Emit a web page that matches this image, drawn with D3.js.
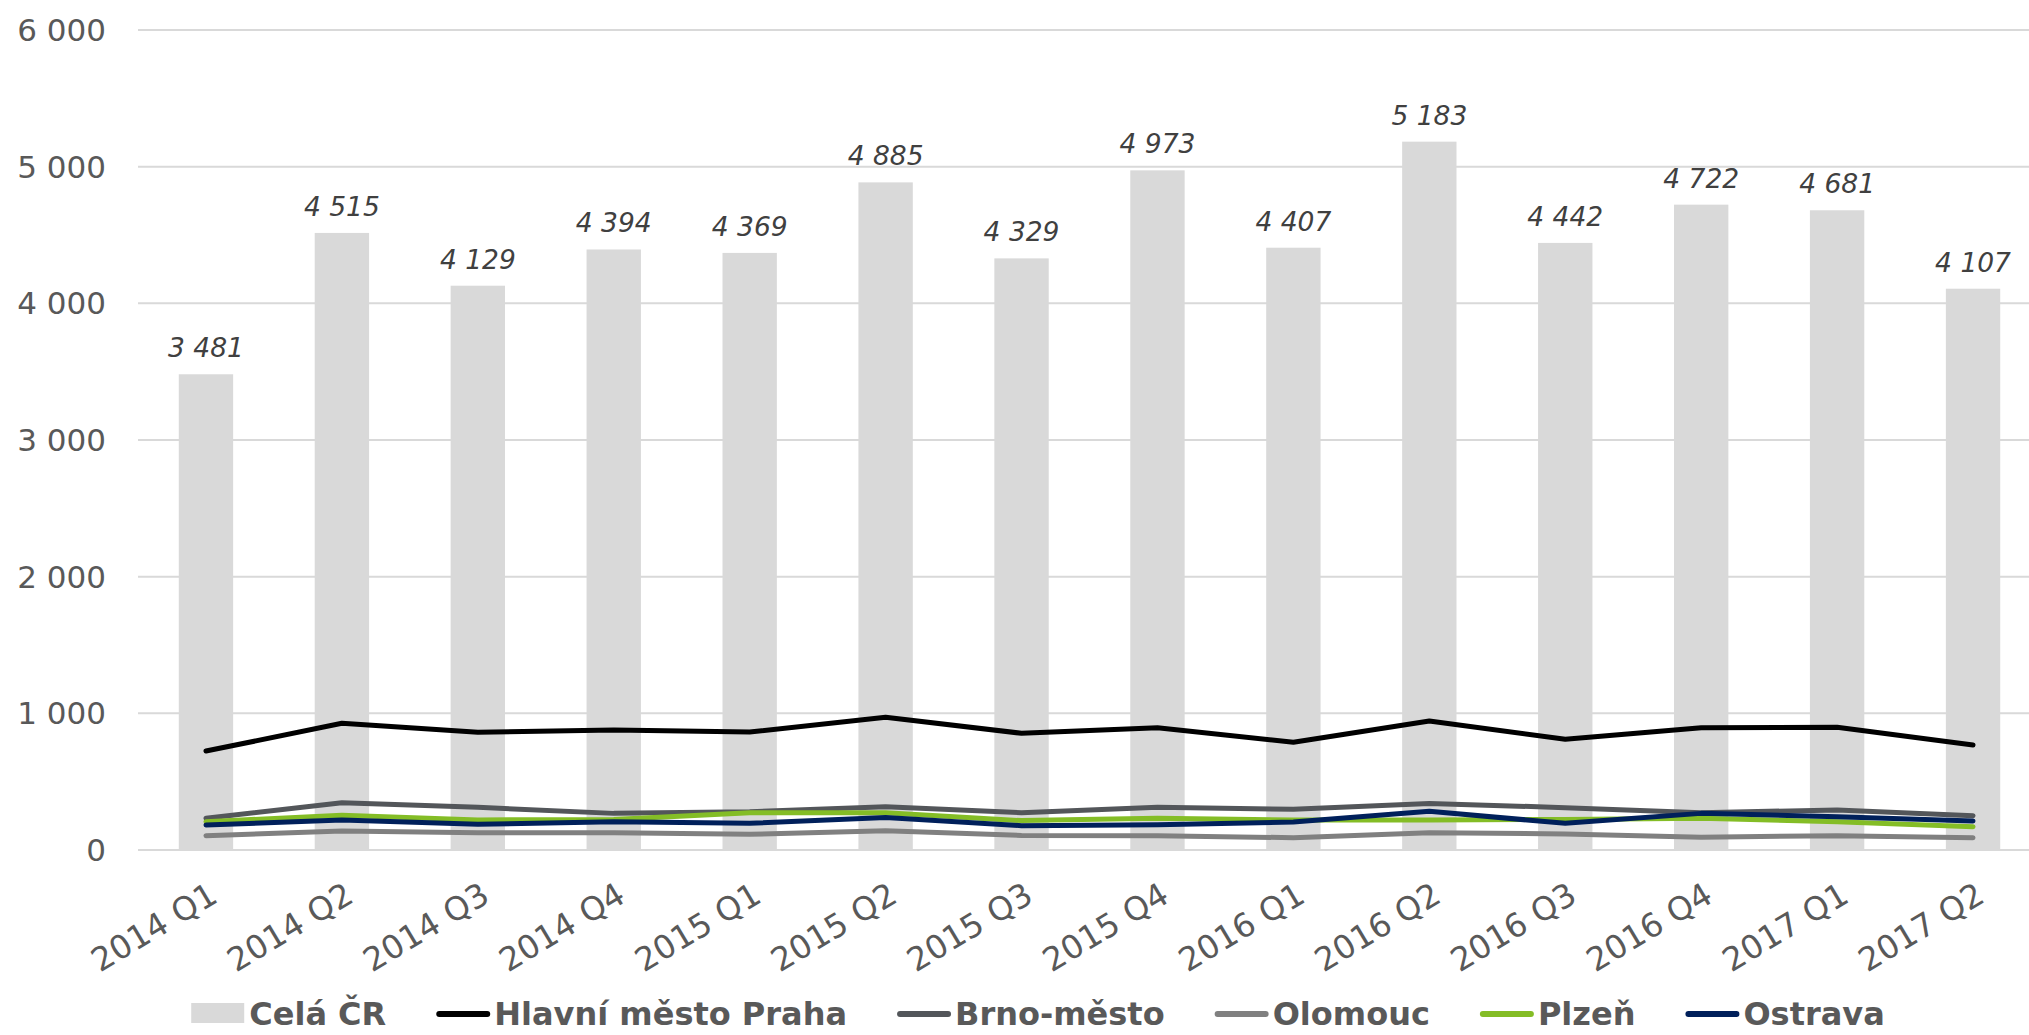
<!DOCTYPE html>
<html>
<head>
<meta charset="utf-8">
<script src="https://cdn.jsdelivr.net/npm/d3@7"></script>
<style>
  body { margin: 0; background: #fff; }
  svg { display: block; }
</style>
</head>
<body>
<div id="chart"></div>
<script>
const categories = ["2014 Q1", "2014 Q2", "2014 Q3", "2014 Q4", "2015 Q1", "2015 Q2", "2015 Q3",
  "2015 Q4", "2016 Q1", "2016 Q2", "2016 Q3", "2016 Q4", "2017 Q1", "2017 Q2"];
const celaCR = [3481, 4515, 4129, 4394, 4369, 4885, 4329, 4973, 4407, 5183, 4442, 4722, 4681, 4107];
const praha = [724, 927, 861, 878, 863, 971, 854, 895, 788, 944, 810, 895, 898, 768];
const brno = [232, 346, 312, 268, 280, 317, 273, 312, 298, 341, 310, 273, 293, 251];
const olomouc = [105, 139, 127, 127, 115, 141, 107, 105, 90, 127, 117, 93, 105, 90];
const plzen = [207, 254, 220, 224, 273, 273, 215, 232, 220, 220, 224, 232, 207, 171];
const ostrava = [183, 220, 188, 207, 195, 237, 178, 185, 205, 283, 195, 268, 244, 212];
const yTicks = [0, 1000, 2000, 3000, 4000, 5000, 6000];

const lineSeries = [
  { name: "Hlavní město Praha", values: praha, color: "#000000" },
  { name: "Brno-město", values: brno, color: "#53565a" },
  { name: "Olomouc", values: olomouc, color: "#808080" },
  { name: "Plzeň", values: plzen, color: "#84bd26" },
  { name: "Ostrava", values: ostrava, color: "#00205b" }
];

const W = 2029, H = 1035;
const font = "'DejaVu Sans', Verdana, sans-serif";
const fmt = v => d3.format(",")(v).replace(/,/g, " ");

const svg = d3.select("#chart").append("svg")
  .attr("width", W)
  .attr("height", H);

const x = d3.scaleBand()
  .domain(categories)
  .range([138, 2041])
  .paddingInner(0.6)
  .paddingOuter(0.3);

const y = d3.scaleLinear()
  .domain([0, 6000])
  .range([850, 30]);

// gridlines
svg.append("g").selectAll("line")
  .data(yTicks)
  .enter().append("line")
  .attr("x1", 138)
  .attr("x2", W)
  .attr("y1", d => y(d))
  .attr("y2", d => y(d))
  .attr("stroke", "#d9d9d9")
  .attr("stroke-width", 2);

// y labels
svg.append("g").selectAll("text")
  .data(yTicks)
  .enter().append("text")
  .attr("x", 106)
  .attr("y", d => y(d))
  .attr("dy", "0.36em")
  .attr("text-anchor", "end")
  .attr("font-family", font)
  .attr("font-size", 31)
  .attr("fill", "#595959")
  .text(d => fmt(d));

// bars
svg.append("g").selectAll("rect")
  .data(celaCR)
  .enter().append("rect")
  .attr("x", (d, i) => x(categories[i]))
  .attr("width", x.bandwidth())
  .attr("y", d => y(d))
  .attr("height", d => y(0) - y(d))
  .attr("fill", "#d9d9d9");

// bar labels
svg.append("g").selectAll("text")
  .data(celaCR)
  .enter().append("text")
  .attr("x", (d, i) => x(categories[i]) + x.bandwidth() / 2)
  .attr("y", d => y(d) - 17)
  .attr("text-anchor", "middle")
  .attr("font-family", font)
  .attr("font-style", "italic")
  .attr("font-size", 26.5)
  .attr("fill", "#404040")
  .text(d => fmt(d));

// lines
const line = d3.line()
  .x((d, i) => x(categories[i]) + x.bandwidth() / 2)
  .y(d => y(d));

svg.append("g").selectAll("path")
  .data(lineSeries)
  .enter().append("path")
  .attr("d", d => line(d.values))
  .attr("fill", "none")
  .attr("stroke", d => d.color)
  .attr("stroke-width", 5)
  .attr("stroke-linejoin", "round")
  .attr("stroke-linecap", "round");

// x labels
svg.append("g").selectAll("text")
  .data(categories)
  .enter().append("text")
  .attr("transform", d => `translate(${x(d) + x.bandwidth() / 2 + 1},${880}) rotate(-31)`)
  .attr("dy", "0.75em")
  .attr("text-anchor", "end")
  .attr("font-family", font)
  .attr("font-size", 32.5)
  .attr("fill", "#595959")
  .text(d => d);

// legend
const legendItems = [{ name: "Celá ČR", type: "bar", color: "#d9d9d9" }]
  .concat(lineSeries.map(s => ({ name: s.name, type: "line", color: s.color })));

const legend = svg.append("g");
const legendY = 1025;
let lx = 0;
legendItems.forEach(item => {
  const g = legend.append("g").attr("transform", `translate(${lx},0)`);
  if (item.type === "bar") {
    g.append("rect")
      .attr("x", 0).attr("y", legendY - 22)
      .attr("width", 53).attr("height", 20)
      .attr("fill", item.color);
  } else {
    g.append("line")
      .attr("x1", 3).attr("x2", 51)
      .attr("y1", legendY - 11).attr("y2", legendY - 11)
      .attr("stroke", item.color)
      .attr("stroke-width", 6)
      .attr("stroke-linecap", "round");
  }
  const t = g.append("text")
    .attr("x", 58)
    .attr("y", legendY)
    .attr("font-family", font)
    .attr("font-weight", "bold")
    .attr("font-size", 32)
    .attr("fill", "#595959")
    .text(item.name);
  lx += 58 + t.node().getComputedTextLength() + 50;
});
const legendW = lx - 50;
legend.attr("transform", `translate(${1038 - legendW / 2},0)`);
</script>
</body>
</html>
